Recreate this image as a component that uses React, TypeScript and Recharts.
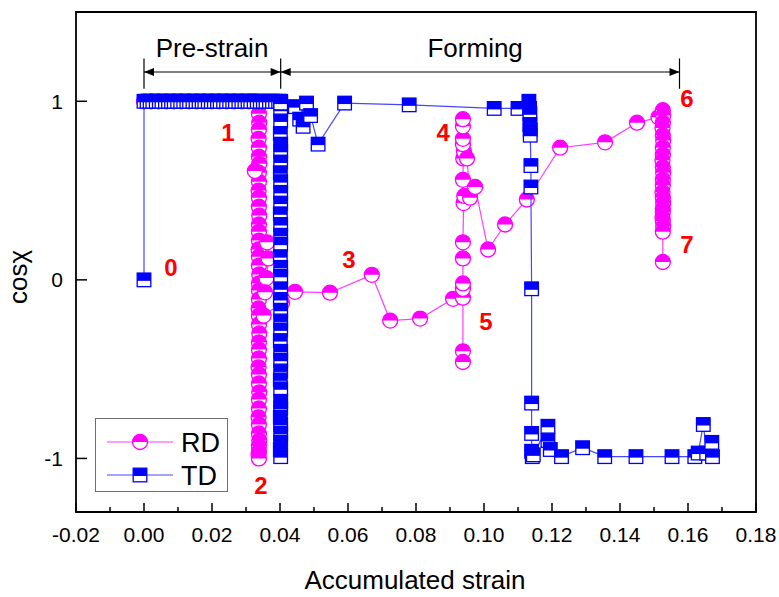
import React from 'react'
import {
  ComposedChart,
  Scatter,
  XAxis,
  YAxis,
  ReferenceArea,
  ReferenceLine,
  ReferenceDot,
  Legend,
} from 'recharts'

const FONT = 'Arial, "Liberation Sans", sans-serif'
const RD_COLOR = '#ff00ff'
const RD_LINE = '#ff3cff'
const TD_COLOR = '#0000ff'
const TD_LINE = '#4646ff'

const xTicks = [-0.02, -0.01, 0, 0.01, 0.02, 0.03, 0.04, 0.05, 0.06, 0.07, 0.08, 0.09, 0.1, 0.11, 0.12, 0.13, 0.14, 0.15, 0.16, 0.17, 0.18]
const yTicks = [-1, 0, 1]

// RD: pre-strain part (top row at cos=1, then the column near 0.034)
const rdPrestrain: [number, number][] = [
  [0, 1.0], [0.0021, 1.0], [0.0043, 1.0], [0.0066, 1.0], [0.0088, 1.0], [0.0109, 1.0], [0.0132, 1.0],
  [0.0155, 1.0], [0.0176, 1.0], [0.0199, 1.0], [0.0221, 1.0], [0.0243, 1.0], [0.0265, 1.0], [0.0288, 1.0],
  [0.0309, 1.0], [0.0325, 1.0],
  [0.0338, 0.98], [0.0338, 0.93], [0.0339, 0.88], [0.0338, 0.84], [0.0337, 0.79], [0.0338, 0.74], [0.0338, 0.69],
  [0.0339, 0.65], [0.0338, 0.6], [0.0338, 0.55], [0.0337, 0.5], [0.0338, 0.46], [0.0338, 0.41], [0.0339, 0.36],
  [0.0338, 0.31], [0.0338, 0.27], [0.0338, 0.22], [0.0337, 0.17], [0.0338, 0.13], [0.0338, 0.08], [0.0339, 0.03],
  [0.0338, -0.02], [0.0338, -0.06], [0.0338, -0.11], [0.0337, -0.16], [0.0338, -0.2], [0.0338, -0.25],
  [0.0339, -0.3], [0.0338, -0.35], [0.0338, -0.39], [0.0338, -0.44], [0.0337, -0.49], [0.0338, -0.53],
  [0.0338, -0.58], [0.0339, -0.63], [0.0338, -0.67], [0.0338, -0.72], [0.0337, -0.77], [0.0338, -0.81],
  [0.0338, -0.86], [0.0339, -0.9], [0.0338, -0.93], [0.0338, -0.96], [0.0337, -0.98], [0.0338, -1.0],
  [0.0326, 0.61], [0.0362, 0.21], [0.0366, 0.12], [0.036, 0.01], [0.0356, -0.07], [0.0352, -0.2], [0.0406, -0.13],
]

// RD: forming part
const rdForming: [number, number][] = [
  [0.0444, -0.067], [0.0547, -0.072], [0.067, 0.028], [0.0724, -0.228], [0.0812, -0.217], [0.0909, -0.106],
  [0.0938, -0.1], [0.0938, -0.4], [0.0938, -0.46], [0.0938, -0.05], [0.0938, -0.02], [0.0938, 0.12],
  [0.0938, 0.21], [0.094, 0.43], [0.0942, 0.47], [0.0938, 0.56], [0.0939, 0.68], [0.0941, 0.72], [0.0938, 0.76],
  [0.0938, 0.79], [0.0938, 0.86], [0.0938, 0.9], [0.095, 0.68], [0.0959, 0.46], [0.0974, 0.52], [0.1012, 0.17],
  [0.1062, 0.31], [0.1126, 0.45], [0.1224, 0.74], [0.1356, 0.77], [0.145, 0.88], [0.1513, 0.91],
  [0.1526, 0.95], [0.1527, 0.92], [0.1526, 0.88], [0.1525, 0.85], [0.1526, 0.81], [0.1527, 0.78], [0.1526, 0.74],
  [0.1526, 0.7], [0.1525, 0.67], [0.1526, 0.63], [0.1527, 0.6], [0.1526, 0.56], [0.1526, 0.53], [0.1525, 0.49],
  [0.1526, 0.46], [0.1527, 0.43], [0.1526, 0.4], [0.1526, 0.38], [0.1525, 0.35], [0.1526, 0.33], [0.1527, 0.3],
  [0.1526, 0.27], [0.1526, 0.1],
]

// TD: pre-strain part (start at 0, top row, column near 0.040)
const tdPrestrain: [number, number][] = [
  [0, 0], [0, 1.0], [0.0009, 1.0], [0.0018, 1.0], [0.0026, 1.0], [0.0036, 1.0], [0.0045, 1.0], [0.0053, 1.0],
  [0.0063, 1.0], [0.0072, 1.0], [0.0081, 1.0], [0.0089, 1.0], [0.0099, 1.0], [0.0108, 1.0], [0.0117, 1.0],
  [0.0126, 1.0], [0.0134, 1.0], [0.0144, 1.0], [0.0153, 1.0], [0.0162, 1.0], [0.0171, 1.0], [0.0179, 1.0],
  [0.0189, 1.0], [0.0198, 1.0], [0.0207, 1.0], [0.0216, 1.0], [0.0224, 1.0], [0.0234, 1.0], [0.0243, 1.0],
  [0.0252, 1.0], [0.0261, 1.0], [0.0269, 1.0], [0.0279, 1.0], [0.0288, 1.0], [0.0297, 1.0], [0.0306, 1.0],
  [0.0314, 1.0], [0.0324, 1.0], [0.0333, 1.0], [0.0342, 1.0], [0.0351, 1.0], [0.0359, 1.0], [0.0369, 1.0],
  [0.0378, 1.0], [0.0387, 1.0], [0.0396, 1.0], [0.0402, 1.0],
  [0.0402, 0.95], [0.0402, 0.89], [0.0401, 0.82], [0.0402, 0.76], [0.0402, 0.72], [0.0402, 0.66], [0.0401, 0.6],
  [0.0402, 0.55], [0.0402, 0.49], [0.0402, 0.43], [0.0401, 0.37], [0.0402, 0.31], [0.0402, 0.25], [0.0402, 0.2],
  [0.0401, 0.13], [0.0402, 0.07], [0.0402, 0.02], [0.0402, -0.05], [0.0401, -0.11], [0.0402, -0.17],
  [0.0402, -0.23], [0.0402, -0.28], [0.0401, -0.34], [0.0402, -0.4], [0.0402, -0.45], [0.0402, -0.51],
  [0.0401, -0.56], [0.0402, -0.61], [0.0402, -0.68], [0.0402, -0.72], [0.0401, -0.77], [0.0402, -0.81],
  [0.0402, -0.86], [0.0402, -0.91], [0.0401, -0.95], [0.0402, -0.99],
  [0.0402, 0.99],
]

// TD: forming part
const tdForming: [number, number][] = [
  [0.0445, 0.97], [0.0458, 0.9], [0.0468, 0.86], [0.0478, 0.99], [0.049, 0.92], [0.0512, 0.76], [0.059, 0.99],
  [0.078, 0.98], [0.103, 0.96], [0.11, 0.96], [0.1132, 1.0], [0.1134, 0.96], [0.1135, 0.93], [0.1135, 0.87],
  [0.1136, 0.84], [0.1136, 0.81], [0.1138, 0.64], [0.1138, 0.52], [0.114, -0.05], [0.114, -0.69], [0.114, -0.86],
  [0.114, -0.96], [0.1142, -0.99], [0.1145, -0.98], [0.1188, -0.82], [0.1188, -0.9], [0.1195, -0.95],
  [0.1228, -0.99], [0.129, -0.94], [0.1355, -0.99], [0.1447, -0.99], [0.1553, -0.99], [0.162, -0.99],
  [0.163, -0.97], [0.1645, -0.81], [0.1655, -0.97], [0.167, -0.91], [0.1672, -0.99],
]

const pointLabels = [
  { text: '0', x: 0.0079, y: 0.02 },
  { text: '1', x: 0.0247, y: 0.78 },
  { text: '2', x: 0.0344, y: -1.2 },
  { text: '3', x: 0.0603, y: 0.067 },
  { text: '4', x: 0.088, y: 0.78 },
  { text: '5', x: 0.1006, y: -0.28 },
  { text: '6', x: 0.1597, y: 0.97 },
  { text: '7', x: 0.1597, y: 0.15 },
]

const stageBounds = [0, 0.0402, 0.1575]
const stageNames = [
  { text: 'Pre-strain', x: 0.02 },
  { text: 'Forming', x: 0.0974 },
]

const toPoints = (rows: [number, number][]) => rows.map(([x, y]) => ({ x, y }))
const rdData = toPoints([...rdPrestrain, ...rdForming])
const tdData = toPoints([...tdPrestrain, ...tdForming])

function HalfCircle({ cx, cy }: any) {
  const r = 7.5
  return (
    <g>
      <circle cx={cx} cy={cy} r={r} fill="#fff" stroke={RD_COLOR} strokeWidth={1.3} />
      <path d={`M${cx - r},${cy} A${r},${r} 0 0 1 ${cx + r},${cy} Z`} fill={RD_COLOR} />
    </g>
  )
}

function HalfSquare({ cx, cy }: any) {
  const h = 6.8
  return (
    <g>
      <rect x={cx - h} y={cy - h} width={2 * h} height={2 * h} fill="#fff" stroke={TD_COLOR} strokeWidth={1.3} />
      <rect x={cx - h} y={cy - h} width={2 * h} height={h + 1} fill={TD_COLOR} />
    </g>
  )
}

function XTick({ x, y, payload }: any) {
  const v = payload.value
  const major = Math.round(v * 100) % 2 === 0
  return (
    <g>
      <line x1={x} y1={y} x2={x} y2={y - (major ? 9 : 5)} stroke="#000" strokeWidth={1.5} />
      {major && (
        <text x={x} y={y + 30} textAnchor="middle" fontSize={21} fontFamily={FONT} fill="#000">
          {v.toFixed(2)}
        </text>
      )}
    </g>
  )
}

function YTick({ x, y, payload }: any) {
  return (
    <g>
      <line x1={x} y1={y} x2={x + 11} y2={y} stroke="#000" strokeWidth={1.5} />
      <text x={x - 13} y={y + 7.5} textAnchor="end" fontSize={21} fontFamily={FONT} fill="#000">
        {payload.value}
      </text>
    </g>
  )
}

function DoubleArrow(props: any) {
  const { x1, y1, x2 } = props
  const a = 10
  const w = 4
  return (
    <g>
      <line x1={x1} y1={y1} x2={x2} y2={y1} stroke="#000" strokeWidth={1.2} />
      <polygon points={`${x1},${y1} ${x1 + a},${y1 - w} ${x1 + a},${y1 + w}`} fill="#000" />
      <polygon points={`${x2},${y1} ${x2 - a},${y1 - w} ${x2 - a},${y1 + w}`} fill="#000" />
    </g>
  )
}

function renderLegend() {
  return (
    <div
      style={{
        width: 133,
        height: 74,
        border: '1.5px solid #6e6e6e',
        background: '#fff',
        boxSizing: 'border-box',
      }}
    >
      <svg width={131} height={72} style={{ display: 'block' }}>
        <line x1={11} x2={77} y1={23} y2={23} stroke={RD_LINE} strokeWidth={1.2} />
        <HalfCircle cx={44} cy={23} />
        <text x={85} y={33} fontSize={27} fontFamily={FONT} fill="#000">RD</text>
        <line x1={11} x2={77} y1={56} y2={56} stroke={TD_LINE} strokeWidth={1.2} />
        <HalfSquare cx={44} cy={56} />
        <text x={85} y={66} fontSize={27} fontFamily={FONT} fill="#000">TD</text>
      </svg>
    </div>
  )
}

export default function App() {
  return (
    <div style={{ position: 'absolute', left: 0, top: 0, background: '#fff' }}>
      <ComposedChart width={779} height={597} margin={{ top: 12, right: 23, bottom: 0, left: 0 }}>
        <XAxis
          type="number"
          dataKey="x"
          domain={[-0.02, 0.18]}
          ticks={xTicks}
          interval={0}
          axisLine={false}
          tickLine={false}
          tickSize={0}
          tickMargin={0}
          tick={<XTick />}
          height={85}
          label={({ viewBox }: any) => (
            <text
              x={viewBox.x + viewBox.width / 2 - 1}
              y={viewBox.y + 77}
              textAnchor="middle"
              fontSize={26}
              fontFamily={FONT}
              fill="#000"
            >
              Accumulated strain
            </text>
          )}
        />
        <YAxis
          type="number"
          dataKey="y"
          domain={[-1.3, 1.5]}
          ticks={yTicks}
          interval={0}
          axisLine={false}
          tickLine={false}
          tickSize={0}
          tickMargin={0}
          tick={<YTick />}
          width={76}
          label={() => (
            <text
              x={27}
              y={277}
              transform="rotate(-90, 27, 277)"
              textAnchor="middle"
              fontSize={26}
              fontFamily={FONT}
              fill="#000"
            >
              cosχ
            </text>
          )}
        />
        <ReferenceArea x1={-0.02} x2={0.18} y1={-1.3} y2={1.5} fill="none" stroke="#000" strokeWidth={1.8} />
        <Scatter
          name="RD"
          data={rdData}
          line={{ stroke: RD_LINE, strokeWidth: 1.2 }}
          lineType="joint"
          shape={<HalfCircle />}
          isAnimationActive={false}
        />
        <Scatter
          name="TD"
          data={tdData}
          line={{ stroke: TD_LINE, strokeWidth: 1.2 }}
          lineType="joint"
          shape={<HalfSquare />}
          isAnimationActive={false}
        />
        {stageBounds.map((b) => (
          <ReferenceLine
            key={'b' + b}
            segment={[{ x: b, y: 1.24 }, { x: b, y: 1.07 }]}
            stroke="#000"
            strokeWidth={1.2}
          />
        ))}
        {stageBounds.slice(1).map((b, i) => (
          <ReferenceLine
            key={'a' + b}
            segment={[{ x: stageBounds[i], y: 1.164 }, { x: b, y: 1.164 }]}
            shape={<DoubleArrow />}
          />
        ))}
        {stageNames.map((s) => (
          <ReferenceDot
            key={s.text}
            x={s.x}
            y={1.25}
            r={0}
            shape={({ cx, cy }: any) => (
              <text x={cx} y={cy} textAnchor="middle" fontSize={26} fontFamily={FONT} fill="#000">
                {s.text}
              </text>
            )}
          />
        ))}
        {pointLabels.map((p) => (
          <ReferenceDot
            key={p.text}
            x={p.x}
            y={p.y}
            r={0}
            shape={({ cx, cy }: any) => (
              <text x={cx} y={cy} textAnchor="middle" fontSize={24} fontWeight="bold" fontFamily={FONT} fill="#ff0000">
                {p.text}
              </text>
            )}
          />
        ))}
        <Legend
          verticalAlign="middle"
          align="center"
          layout="horizontal"
          content={renderLegend}
          wrapperStyle={{ left: 95, top: 418, width: 133, height: 74 }}
        />
      </ComposedChart>
    </div>
  )
}
